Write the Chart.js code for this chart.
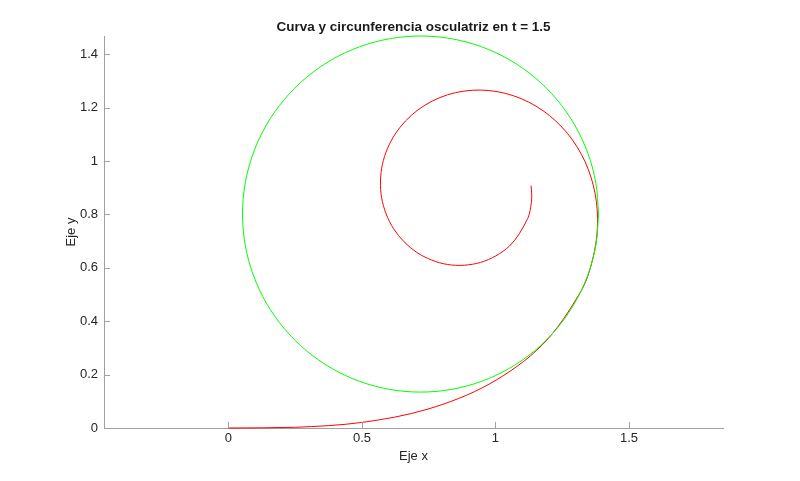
<!DOCTYPE html>
<html>
<head>
<meta charset="utf-8">
<script src="https://cdn.jsdelivr.net/npm/chart.js@4/dist/chart.umd.min.js"></script>
<style>
  html, body { margin: 0; padding: 0; background: #ffffff; }
  #wrap { width: 800px; height: 481px; }
</style>
</head>
<body>
<div id="wrap"><canvas id="c" width="800" height="481"></canvas></div>
<script>
// ---- Data ----
// Curve (red), sampled along its length
const curveX = [0.0000, 0.2500, 0.4992, 0.7441, 0.9753, 1.1758, 1.3210, 1.3637, 1.3819, 1.3729,
                1.3352, 1.2693, 1.1780, 1.0668, 0.9441, 0.8209, 0.7100, 0.6246, 0.5765, 0.5737,
                0.6184, 0.7052, 0.8207, 0.9444, 1.0522, 1.1206, 1.1345, 1.1357, 1.1331];
const curveY = [0.0000, 0.0026, 0.0208, 0.0699, 0.1637, 0.3116, 0.5137, 0.6309, 0.7543, 0.8788,
                0.9976, 1.1034, 1.1882, 1.2443, 1.2654, 1.2478, 1.1914, 1.1010, 0.9864, 0.8621,
                0.7463, 0.6576, 0.6122, 0.6201, 0.6812, 0.7844, 0.8452, 0.8764, 0.9075];
// Osculating circle (green)
const circleX = [1.3861, 1.3760, 1.3459, 1.2968, 1.2301, 1.1480, 1.0528, 0.9475, 0.8352, 0.7194,
                 0.6037, 0.4914, 0.3861, 0.2909, 0.2088, 0.1421, 0.0930, 0.0629, 0.0528, 0.0629,
                 0.0930, 0.1421, 0.2088, 0.2909, 0.3861, 0.4914, 0.6037, 0.7194, 0.8352, 0.9475,
                 1.0528, 1.1480, 1.2301, 1.2968, 1.3459, 1.3760, 1.3861];
const circleY = [0.8011, 0.9169, 1.0291, 1.1344, 1.2296, 1.3118, 1.3785, 1.4276, 1.4576, 1.4678,
                 1.4576, 1.4276, 1.3785, 1.3118, 1.2296, 1.1344, 1.0291, 0.9169, 0.8011, 0.6853,
                 0.5731, 0.4678, 0.3726, 0.2904, 0.2238, 0.1746, 0.1446, 0.1344, 0.1446, 0.1746,
                 0.2238, 0.2904, 0.3726, 0.4678, 0.5731, 0.6853, 0.8011];
// Tick labels
const xTicks = [0, 0.5, 1, 1.5];
const yTicks = [0, 0.2, 0.4, 0.6, 0.8, 1, 1.2, 1.4];
const xLimits = [-0.4658, 1.8519];
const yLimits = [0, 1.4678];

const titleText = 'Curva y circunferencia osculatriz en t = 1.5';
const xLabel = 'Eje x';
const yLabel = 'Eje y';

// ---- Styles ----
const FONT = '"Liberation Sans", Arial, Helvetica, sans-serif';
const axisColor = '#a0a0a0';
const textColor = '#262626';

const inwardTicks = {
  id: 'inwardTicks',
  afterDatasetsDraw(chart) {
    const { ctx, chartArea, scales } = chart;
    const xs = scales.x, ys = scales.y;
    ctx.save();
    ctx.strokeStyle = axisColor;
    ctx.lineWidth = 1;
    ctx.beginPath();
    xTicks.forEach(v => {
      const px = Math.round(xs.getPixelForValue(v)) + 0.5;
      ctx.moveTo(px, chartArea.bottom);
      ctx.lineTo(px, chartArea.bottom - 6);
    });
    yTicks.forEach(v => {
      const py = Math.round(ys.getPixelForValue(v)) + 0.5;
      ctx.moveTo(chartArea.left, py);
      ctx.lineTo(chartArea.left + 6, py);
    });
    ctx.stroke();
    ctx.restore();
  }
};

new Chart(document.getElementById('c'), {
  type: 'scatter',
  data: {
    datasets: [
      {
        label: 'curva',
        data: curveX.map((x, i) => ({ x: x, y: curveY[i] })),
        showLine: true,
        borderColor: '#ff0000',
        backgroundColor: '#ff0000',
        borderWidth: 1,
        pointRadius: 0,
        tension: 0.33,
        fill: false,
        clip: false,
        order: 1
      },
      {
        label: 'circunferencia',
        data: circleX.map((x, i) => ({ x: x, y: circleY[i] })),
        showLine: true,
        borderColor: '#00ff00',
        backgroundColor: '#00ff00',
        borderWidth: 1,
        pointRadius: 0,
        tension: 0.33,
        fill: false,
        clip: false,
        order: 0
      }
    ]
  },
  options: {
    responsive: false,
    animation: false,
    devicePixelRatio: 1,
    layout: { padding: { left: 0, top: 0, right: 77, bottom: 0 } },
    plugins: {
      legend: { display: false },
      tooltip: { enabled: false },
      title: {
        display: true,
        text: titleText,
        fullSize: false,
        color: '#1a1a1a',
        font: { family: FONT, size: 13.5, weight: 'bold', lineHeight: 1.2 },
        padding: { top: 19, bottom: 0.8 }
      }
    },
    scales: {
      x: {
        type: 'linear',
        min: xLimits[0],
        max: xLimits[1],
        afterBuildTicks: s => { s.ticks = xTicks.map(v => ({ value: v })); },
        afterFit: s => { s.height = 53; },
        grid: { display: true, drawOnChartArea: false, drawTicks: false },
        border: { display: true, color: axisColor, width: 1 },
        ticks: {
          color: textColor,
          padding: 3,
          maxRotation: 0,
          autoSkip: false,
          font: { family: FONT, size: 13 },
          callback: v => String(v)
        },
        title: {
          display: true,
          text: xLabel,
          color: textColor,
          font: { family: FONT, size: 13 },
          padding: { top: 0, bottom: 17 }
        }
      },
      y: {
        type: 'linear',
        min: yLimits[0],
        max: yLimits[1],
        afterBuildTicks: s => { s.ticks = yTicks.map(v => ({ value: v })); },
        afterFit: s => { s.width = 104; },
        grid: { display: true, drawOnChartArea: false, drawTicks: false },
        border: { display: true, color: axisColor, width: 1 },
        ticks: {
          color: textColor,
          padding: 6,
          autoSkip: false,
          font: { family: FONT, size: 13 },
          callback: v => String(v)
        },
        title: {
          display: true,
          text: yLabel,
          color: textColor,
          font: { family: FONT, size: 13 },
          padding: { top: 64, bottom: 0 }
        }
      }
    }
  },
  plugins: [inwardTicks]
});
</script>
</body>
</html>
